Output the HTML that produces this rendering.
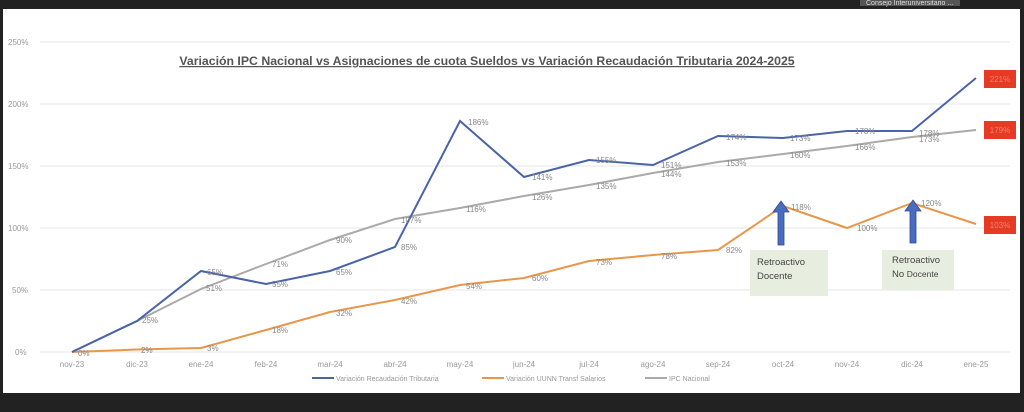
<!DOCTYPE html>
<html><head><meta charset="utf-8"><style>
html,body{margin:0;padding:0;background:#222;}
svg{display:block;font-family:"Liberation Sans",sans-serif;}
</style></head><body>
<svg width="1024" height="412" viewBox="0 0 1024 412" xmlns="http://www.w3.org/2000/svg">
<rect x="0" y="0" width="1024" height="412" fill="#222"/>
<rect x="860" y="0" width="100" height="6" fill="#555"/>
<text x="866" y="5" font-size="7" fill="#ddd">Consejo Interuniversitario ...</text>
<rect x="3" y="9" width="1017" height="384" fill="#fff"/>
<g stroke="#e6e6e6" stroke-width="1">
<line x1="40" y1="42" x2="1010" y2="42"/><line x1="40" y1="104" x2="1010" y2="104"/>
<line x1="40" y1="166" x2="1010" y2="166"/><line x1="40" y1="228" x2="1010" y2="228"/>
<line x1="40" y1="290" x2="1010" y2="290"/><line x1="40" y1="352" x2="1010" y2="352"/>
</g>
<g font-size="8" fill="#999">
<text x="8" y="45">250%</text><text x="8" y="107">200%</text><text x="8" y="169">150%</text>
<text x="8" y="231">100%</text><text x="12" y="293">50%</text><text x="15" y="355">0%</text>
</g>
<g font-size="8" fill="#999" text-anchor="middle">
<text x="72" y="367">nov-23</text><text x="137" y="367">dic-23</text><text x="201" y="367">ene-24</text>
<text x="266" y="367">feb-24</text><text x="330" y="367">mar-24</text><text x="395" y="367">abr-24</text>
<text x="460" y="367">may-24</text><text x="524" y="367">jun-24</text><text x="589" y="367">jul-24</text>
<text x="653" y="367">ago-24</text><text x="718" y="367">sep-24</text><text x="783" y="367">oct-24</text>
<text x="847" y="367">nov-24</text><text x="912" y="367">dic-24</text><text x="976" y="367">ene-25</text>
</g>
<text x="487" y="65" font-size="12.3" font-weight="bold" fill="#555" text-anchor="middle" text-decoration="underline">Variación IPC Nacional vs Asignaciones de cuota Sueldos vs Variación Recaudación Tributaria 2024-2025</text>
<polyline fill="none" stroke="#aaa" stroke-width="2" points="72,352 137,321 201,289 266,264 330,240 395,219 460,208 524,196 589,185 653,173 718,162 783,154 847,146 912,137 976,130"/>
<polyline fill="none" stroke="#e8974a" stroke-width="2" points="72,352 137,349.5 201,348 266,330 330,312 395,300 460,285 524,278 589,261 653,255 718,250 783,206 847,228 912,203 976,224"/>
<polyline fill="none" stroke="#4a64a8" stroke-width="2" points="72,352 137,321 201,271 266,284 330,271 395,247 460,121 524,177 589,160 653,165 718,136 783,138 847,131 912,131 976,78"/>
<g font-size="8" fill="#888">
<text x="78" y="356">0%</text><text x="142" y="323">25%</text><text x="207" y="275">65%</text><text x="206" y="291">51%</text>
<text x="272" y="287">55%</text><text x="272" y="267">71%</text><text x="336" y="275">65%</text><text x="336" y="243">90%</text>
<text x="401" y="250">85%</text><text x="401" y="223">107%</text><text x="468" y="125">186%</text><text x="466" y="212">116%</text>
<text x="532" y="180">141%</text><text x="532" y="200">126%</text><text x="596" y="163">155%</text><text x="596" y="189">135%</text>
<text x="661" y="168">151%</text><text x="661" y="177">144%</text><text x="726" y="140">174%</text><text x="726" y="166">153%</text>
<text x="790" y="141">173%</text><text x="790" y="158">160%</text><text x="855" y="134">178%</text><text x="855" y="150">166%</text>
<text x="919" y="136">178%</text><text x="919" y="142">173%</text>
<text x="141" y="353">2%</text><text x="207" y="351">3%</text><text x="272" y="333">18%</text><text x="336" y="316">32%</text>
<text x="401" y="304">42%</text><text x="466" y="289">54%</text><text x="532" y="281">60%</text><text x="596" y="265">73%</text>
<text x="661" y="259">78%</text><text x="726" y="253">82%</text><text x="791" y="210">118%</text><text x="857" y="231">100%</text>
<text x="921" y="206">120%</text>
</g>
<g fill="#e53b25">
<rect x="984" y="70" width="32" height="18"/><rect x="984" y="121" width="32" height="18"/><rect x="984" y="216" width="32" height="18"/>
</g>
<g font-size="8" fill="#f08070" text-anchor="middle">
<text x="1000" y="82">221%</text><text x="1000" y="133">179%</text><text x="1000" y="228">103%</text>
</g>
<rect x="750" y="250" width="78" height="46" fill="#e8eedf"/>
<rect x="882" y="250" width="72" height="40" fill="#e8eedf"/>
<g font-size="9.5" fill="#444">
<text x="757" y="265">Retroactivo</text><text x="757" y="279">Docente</text>
<text x="892" y="263">Retroactivo</text><text x="892" y="277">No <tspan font-size="8.5">Docente</tspan></text>
</g>
<g fill="#4a6cc0" stroke="#2e4a90" stroke-width="0.8">
<polygon points="778,245 784,245 784,212 789,212 781,201 773,212 778,212"/>
<polygon points="910,243 916,243 916,211 921,211 913,200 905,211 910,211"/>
</g>
<g font-size="7" fill="#999">
<line x1="312" y1="378" x2="334" y2="378" stroke="#4a64a8" stroke-width="2"/><text x="336" y="381">Variación Recaudación Tributaria</text>
<line x1="482" y1="378" x2="504" y2="378" stroke="#e8974a" stroke-width="2"/><text x="506" y="381">Variación UUNN Transf Salarios</text>
<line x1="645" y1="378" x2="667" y2="378" stroke="#aaa" stroke-width="2"/><text x="669" y="381">IPC Nacional</text>
</g>
</svg>
</body></html>
